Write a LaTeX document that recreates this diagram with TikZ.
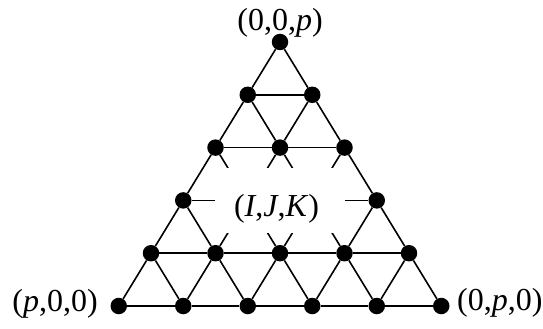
\documentclass[tikz,border=0pt]{standalone}
\usepackage{fontspec}
\setmainfont{Liberation Serif}
\begin{document}
\begin{tikzpicture}[x=1pt,y=-1pt,
  dot/.style={circle,fill=black,inner sep=0pt,minimum size=16.5pt},
  edge/.style={line width=1.6pt},
  lbl/.style={font=\fontsize{32}{38}\selectfont,inner sep=0pt,anchor=base}]
\useasboundingbox (0,0) rectangle (543,329);
% lattice dots
\foreach \r in {0,...,5}{
  \foreach \k in {0,...,\r}{
    \node[dot] (n-\r-\k) at ({280+(\k-\r/2)*64.5},{42+\r*52.8}) {};
  }
}
% edges
\foreach \r in {0,...,4}{
  \pgfmathtruncatemacro{\rn}{\r+1}
  \foreach \k in {0,...,\r}{
    \pgfmathtruncatemacro{\kn}{\k+1}
    \draw[edge] (n-\r-\k) -- (n-\rn-\k);
    \draw[edge] (n-\r-\k) -- (n-\rn-\kn);
  }
}
\foreach \r in {1,...,5}{
  \pgfmathtruncatemacro{\rm}{\r-1}
  \foreach \k in {0,...,\rm}{
    \pgfmathtruncatemacro{\kn}{\k+1}
    \draw[edge] (n-\r-\k) -- (n-\r-\kn);
  }
}
% white mask around the centre label
\node[fill=white,inner sep=0pt,minimum width=130pt,minimum height=65pt] (mask) at (280,200.5) {};
\node[lbl] (ijk) at (276.5,216) {(\textit{I},\textit{J},\textit{K})};
% corner labels
\node[lbl] (top) at (280,31) {(0,0,\textit{p})};
\node[lbl,anchor=base east] (left) at (98,311) {(\textit{p},0,0)};
\node[lbl,anchor=base west] (right) at (457,310.5) {(0,\textit{p},0)};
\end{tikzpicture}
\end{document}
